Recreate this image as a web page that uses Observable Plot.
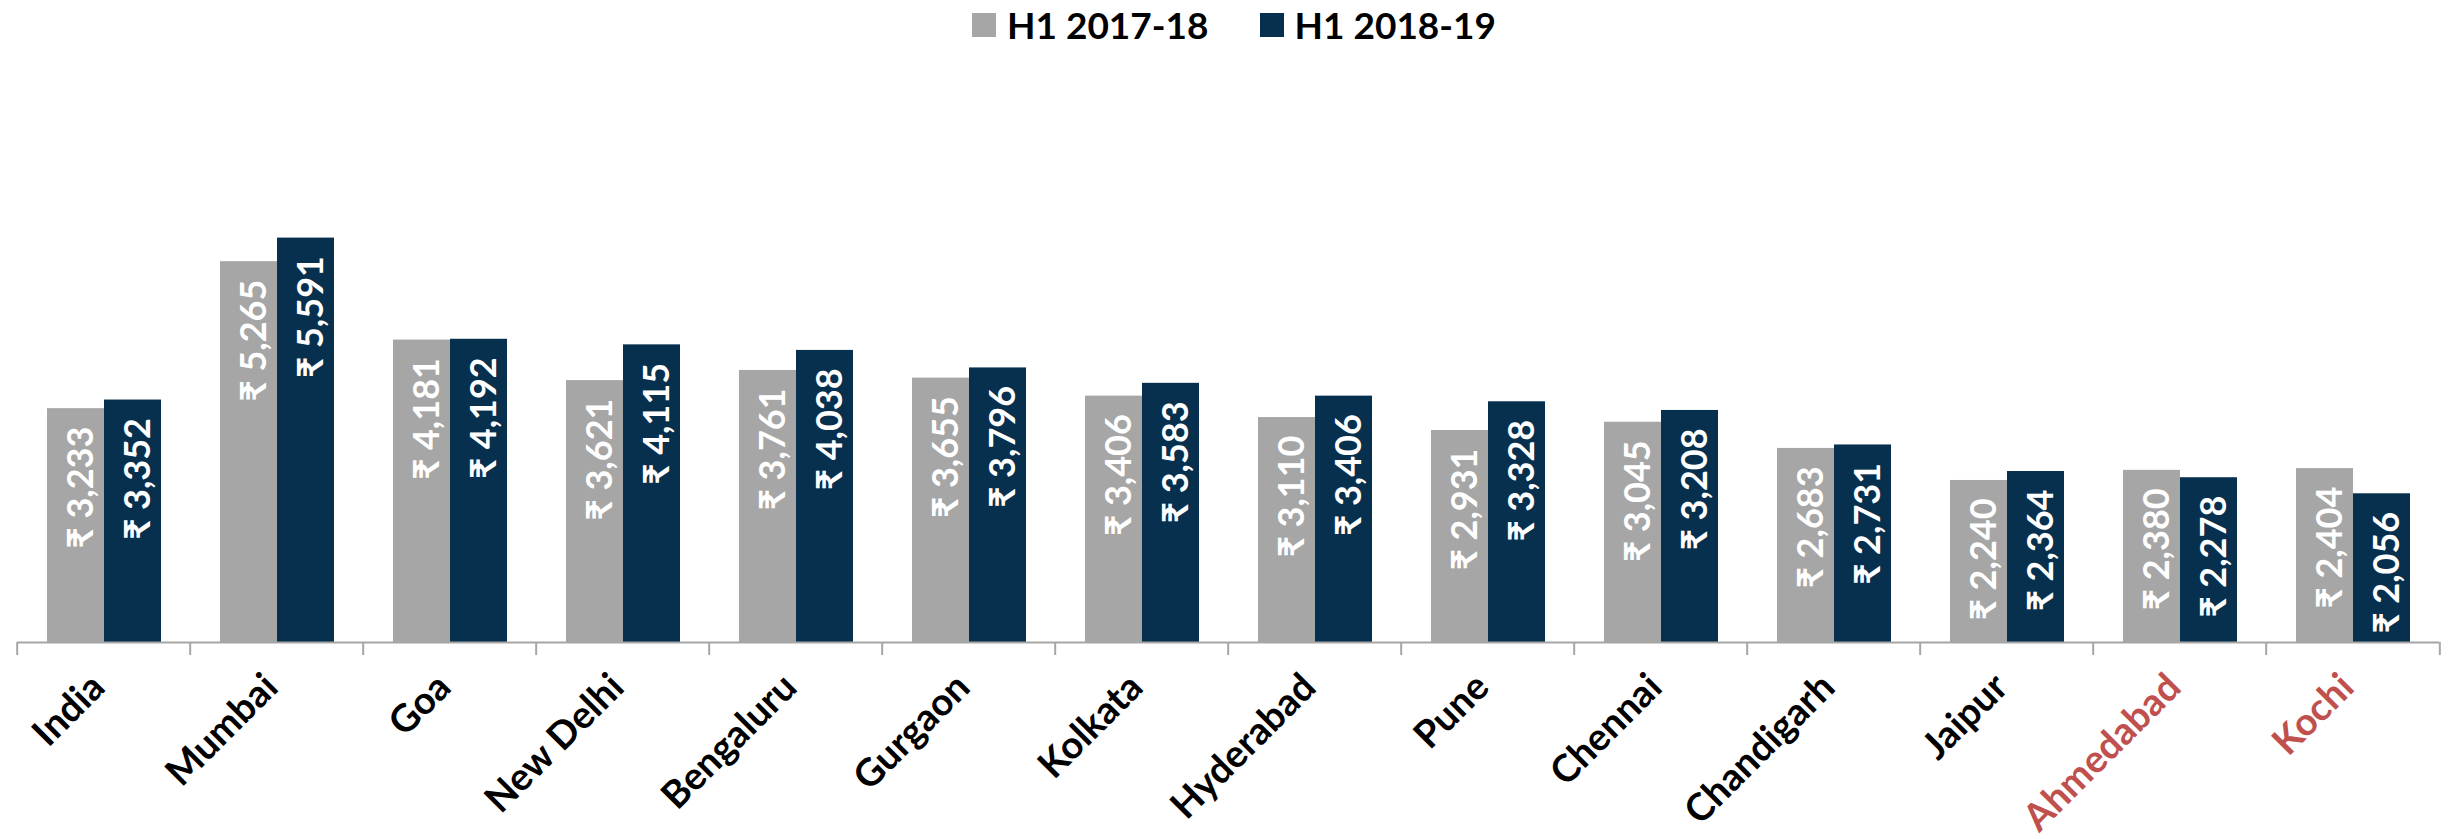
<!DOCTYPE html>
<html>
<head>
<meta charset="utf-8">
<script src="https://cdn.jsdelivr.net/npm/d3@7"></script>
<script src="https://cdn.jsdelivr.net/npm/@observablehq/plot@0.6"></script>
<style>
  body { margin: 0; background: #fff; font-family: Lato, "Open Sans", sans-serif; }
  #legend { height: 49px; display: flex; justify-content: center; align-items: center; gap: 51px;
            font-weight: 700; font-size: 37px; color: #000; padding-left: 18px; }
  .item { display: flex; align-items: center; gap: 11px; }
  .sw { width: 24px; height: 24px; display: inline-block; }
</style>
</head>
<body>
<div id="legend"></div>
<div id="chart"></div>
<script>
const cities = ["India", "Mumbai", "Goa", "New Delhi", "Bengaluru", "Gurgaon", "Kolkata",
                "Hyderabad", "Pune", "Chennai", "Chandigarh", "Jaipur", "Ahmedabad", "Kochi"];
const h1_2017_18 = [3233, 5265, 4181, 3621, 3761, 3655, 3406, 3110, 2931, 3045, 2683, 2240, 2380, 2404];
const h1_2018_19 = [3352, 5591, 4192, 4115, 4038, 3796, 3583, 3406, 3328, 3208, 2731, 2364, 2278, 2056];
const seriesNames = ["H1 2017-18", "H1 2018-19"];
const seriesColors = ["#a6a6a6", "#07304f"];
const highlighted = ["Ahmedabad", "Kochi"];

const data = cities.flatMap((c, i) => [
  {city: c, series: seriesNames[0], value: h1_2017_18[i]},
  {city: c, series: seriesNames[1], value: h1_2018_19[i]}
]);

// legend
const legend = document.getElementById("legend");
seriesNames.forEach((s, i) => {
  const it = document.createElement("div");
  it.className = "item";
  it.innerHTML = `<span class="sw" style="background:${seriesColors[i]}"></span><span>${s}</span>`;
  legend.appendChild(it);
});

const W = 2450, H = 790, mL = 12, mR = 7;
const step = (W - mL - mR) / cities.length;
const fmt = d3.format(",");
const labelFont = {fontSize: 38, fontWeight: 700, fontFamily: "Lato, 'Open Sans', sans-serif"};
const tickStyle = {anchor: "bottom", label: null, tickSize: 13, tickFormat: null, stroke: "#a6a6a6", strokeWidth: 2};

const chart = Plot.plot({
  width: W, height: H,
  marginLeft: mL, marginRight: mR, marginTop: 159, marginBottom: 197,
  style: {fontFamily: "Lato, 'Open Sans', sans-serif", background: "white"},
  fx: {domain: cities, padding: 0, axis: null, label: null},
  x: {domain: seriesNames, paddingInner: 0, paddingOuter: 0.515, axis: null},
  y: {domain: [0, 6000], axis: null},
  color: {domain: seriesNames, range: seriesColors},
  marks: [
    Plot.barY(data, {fx: "city", x: "series", y: "value", fill: "series"}),
    Plot.ruleY([0], {stroke: "#a6a6a6", strokeWidth: 2}),
    Plot.text(data, {fx: "city", x: "series", y: "value",
      text: d => "₹ " + fmt(d.value), rotate: -90, textAnchor: "end",
      dy: 18, dx: 5, fill: "white", fontSize: 36, fontWeight: 700}),
    Plot.axisFx({...tickStyle, dx: -step / 2}),
    Plot.axisFx({...tickStyle, ticks: [cities[cities.length - 1]], dx: step / 2}),
    Plot.text(cities.filter(c => !highlighted.includes(c)), {fx: d => d, text: d => d,
      frameAnchor: "bottom", rotate: -45, textAnchor: "end", dy: 47, dx: 3, fill: "black", ...labelFont}),
    Plot.text(cities.filter(c => highlighted.includes(c)), {fx: d => d, text: d => d,
      frameAnchor: "bottom", rotate: -45, textAnchor: "end", dy: 47, dx: 3, fill: "#c0504d", ...labelFont})
  ]
});
document.getElementById("chart").appendChild(chart);
</script>
</body>
</html>
